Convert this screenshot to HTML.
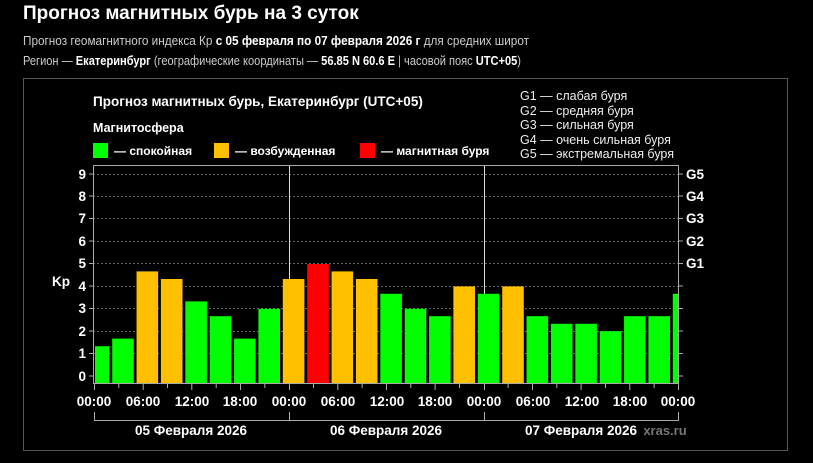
<!DOCTYPE html>
<html><head><meta charset="utf-8"><style>
html,body{margin:0;padding:0;background:#000;width:813px;height:463px;overflow:hidden}
svg{display:block}
</style></head><body>
<svg width="813" height="463" xmlns="http://www.w3.org/2000/svg" font-family="Liberation Sans, sans-serif">
<rect width="813" height="463" fill="#000"/>
<text x="23" y="19" fill="#fff" font-size="19" font-weight="bold">Прогноз магнитных бурь на 3 суток</text>
<text x="23" y="45" fill="#ccc" font-size="12.5" textLength="506" lengthAdjust="spacingAndGlyphs">Прогноз геомагнитного индекса Кр <tspan fill="#fff" font-weight="bold">с 05 февраля по 07 февраля 2026 г</tspan> для средних широт</text>
<text x="23" y="65" fill="#ccc" font-size="12.5" textLength="498" lengthAdjust="spacingAndGlyphs">Регион — <tspan fill="#fff" font-weight="bold">Екатеринбург</tspan> (географические координаты — <tspan fill="#fff" font-weight="bold">56.85 N 60.6 E</tspan> | часовой пояс <tspan fill="#fff" font-weight="bold">UTC+05</tspan>)</text>
<rect x="23.5" y="78.5" width="764" height="372" fill="none" stroke="#555" stroke-width="1"/>
<g fill="#fff" font-weight="bold">
<text x="93" y="106" font-size="13.5">Прогноз магнитных бурь, Екатеринбург (UTC+05)</text>
<text x="93" y="132" font-size="12.5">Магнитосфера</text>
</g>
<g fill="#eee" font-size="12.5">
<text x="520" y="100">G1 — слабая буря</text>
<text x="520" y="115">G2 — средняя буря</text>
<text x="520" y="129">G3 — сильная буря</text>
<text x="520" y="144">G4 — очень сильная буря</text>
<text x="520" y="158">G5 — экстремальная буря</text>
</g>
<rect x="93" y="143" width="15" height="15" fill="#00ff00"/>
<text x="114" y="155" fill="#fff" font-size="12" font-weight="bold">— спокойная</text>
<rect x="214" y="143" width="15" height="15" fill="#ffc000"/>
<text x="235" y="155" fill="#fff" font-size="12" font-weight="bold">— возбужденная</text>
<rect x="360" y="143" width="15" height="15" fill="#ff0000"/>
<text x="381" y="155" fill="#fff" font-size="12" font-weight="bold">— магнитная буря</text>
<g stroke="#666" stroke-dasharray="2,2" stroke-width="1">
<line x1="93" x2="678" y1="353.5" y2="353.5"/><line x1="93" x2="678" y1="331.5" y2="331.5"/>
<line x1="93" x2="678" y1="308.5" y2="308.5"/><line x1="93" x2="678" y1="286.5" y2="286.5"/>
<line x1="93" x2="678" y1="263.5" y2="263.5"/><line x1="93" x2="678" y1="241.5" y2="241.5"/>
<line x1="93" x2="678" y1="218.5" y2="218.5"/><line x1="93" x2="678" y1="196.5" y2="196.5"/>
<line x1="93" x2="678" y1="174.5" y2="174.5"/>
</g>
<line x1="289.5" x2="289.5" y1="166" y2="384" stroke="#ddd"/>
<line x1="484.5" x2="484.5" y1="166" y2="384" stroke="#ddd"/>
<g>
<rect x="95" y="346.2" width="14.4" height="37.8" fill="#00ff00"/>
<rect x="112.2" y="338.6" width="21.6" height="45.4" fill="#00ff00"/>
<rect x="136.55" y="271.4" width="21.6" height="112.6" fill="#ffc000"/>
<rect x="160.9" y="279" width="21.6" height="105" fill="#ffc000"/>
<rect x="185.3" y="301.4" width="21.6" height="82.6" fill="#00ff00"/>
<rect x="209.7" y="316.2" width="21.6" height="67.8" fill="#00ff00"/>
<rect x="234.05" y="338.6" width="21.6" height="45.4" fill="#00ff00"/>
<rect x="258.4" y="308.8" width="21.6" height="75.2" fill="#00ff00"/>
<rect x="282.8" y="279" width="21.6" height="105" fill="#ffc000"/>
<rect x="307.2" y="264" width="21.6" height="120" fill="#ff0000"/>
<rect x="331.55" y="271.4" width="21.6" height="112.6" fill="#ffc000"/>
<rect x="355.9" y="279" width="21.6" height="105" fill="#ffc000"/>
<rect x="380.3" y="293.8" width="21.6" height="90.2" fill="#00ff00"/>
<rect x="404.7" y="308.8" width="21.6" height="75.2" fill="#00ff00"/>
<rect x="429.05" y="316.2" width="21.6" height="67.8" fill="#00ff00"/>
<rect x="453.4" y="286.4" width="21.6" height="97.6" fill="#ffc000"/>
<rect x="477.8" y="293.8" width="21.6" height="90.2" fill="#00ff00"/>
<rect x="502.2" y="286.4" width="21.6" height="97.6" fill="#ffc000"/>
<rect x="526.55" y="316.2" width="21.6" height="67.8" fill="#00ff00"/>
<rect x="550.9" y="323.8" width="21.6" height="60.2" fill="#00ff00"/>
<rect x="575.3" y="323.8" width="21.6" height="60.2" fill="#00ff00"/>
<rect x="599.7" y="331.2" width="21.6" height="52.8" fill="#00ff00"/>
<rect x="624.05" y="316.2" width="21.6" height="67.8" fill="#00ff00"/>
<rect x="648.4" y="316.2" width="21.6" height="67.8" fill="#00ff00"/>
<rect x="672.8" y="293.8" width="5.2" height="90.2" fill="#00ff00"/>
</g>
<rect x="93.5" y="165.5" width="585" height="218" fill="none" stroke="#aaa"/>
<g fill="#fff" font-size="13.5" font-weight="bold" text-anchor="end">
<text x="86" y="381">0</text><text x="86" y="358">1</text><text x="86" y="336">2</text>
<text x="86" y="313">3</text><text x="86" y="291">4</text><text x="86" y="268">5</text>
<text x="86" y="246">6</text><text x="86" y="223">7</text><text x="86" y="201">8</text><text x="86" y="179">9</text>
</g>
<text x="52" y="286" fill="#fff" font-size="13.5" font-weight="bold">Kp</text>
<g fill="#fff" font-size="13.5" font-weight="bold">
<text x="686" y="179">G5</text><text x="686" y="201">G4</text><text x="686" y="223">G3</text>
<text x="686" y="246">G2</text><text x="686" y="268">G1</text>
</g>
<g stroke="#aaa">
<line x1="89" x2="93" y1="376" y2="376"/><line x1="89" x2="93" y1="353.5" y2="353.5"/>
<line x1="89" x2="93" y1="331" y2="331"/><line x1="89" x2="93" y1="308.5" y2="308.5"/>
<line x1="89" x2="93" y1="286" y2="286"/><line x1="89" x2="93" y1="263.5" y2="263.5"/>
<line x1="89" x2="93" y1="241" y2="241"/><line x1="89" x2="93" y1="218.5" y2="218.5"/>
<line x1="89" x2="93" y1="196" y2="196"/><line x1="89" x2="93" y1="174" y2="174"/>
<line x1="678" x2="683" y1="376" y2="376"/><line x1="678" x2="683" y1="353.5" y2="353.5"/>
<line x1="678" x2="683" y1="331" y2="331"/><line x1="678" x2="683" y1="308.5" y2="308.5"/>
<line x1="678" x2="683" y1="286" y2="286"/><line x1="678" x2="683" y1="263.5" y2="263.5"/>
<line x1="678" x2="683" y1="241" y2="241"/><line x1="678" x2="683" y1="218.5" y2="218.5"/>
<line x1="678" x2="683" y1="196" y2="196"/><line x1="678" x2="683" y1="174" y2="174"/>
</g>
<path stroke="#aaa" fill="none" d="M94.5 384v6M118.8 384v4M143.2 384v6M167.5 384v4M191.8 384v6M216.2 384v4M240.5 384v6M264.8 384v4M289.5 384v6M313.5 384v4M337.8 384v6M362.1 384v4M386.5 384v6M410.8 384v4M435.1 384v6M459.5 384v4M484.5 384v6M508.1 384v4M532.5 384v6M556.8 384v4M581.1 384v6M605.5 384v4M629.8 384v6M654.1 384v4M678.5 384v6"/>
<g fill="#fff" font-size="13.5" font-weight="bold" text-anchor="middle">
<text x="94" y="406">00:00</text><text x="143" y="406">06:00</text><text x="192" y="406">12:00</text>
<text x="240" y="406">18:00</text><text x="289" y="406">00:00</text><text x="338" y="406">06:00</text>
<text x="387" y="406">12:00</text><text x="435" y="406">18:00</text><text x="484" y="406">00:00</text>
<text x="533" y="406">06:00</text><text x="582" y="406">12:00</text><text x="630" y="406">18:00</text>
<text x="678" y="406">00:00</text>
<text x="191" y="435">05 Февраля 2026</text><text x="386" y="435">06 Февраля 2026</text><text x="581" y="435">07 Февраля 2026</text>
</g>
<text x="665" y="435" fill="#777" font-size="13" font-weight="bold" text-anchor="middle">xras.ru</text>
<path d="M94.5 412V420.5H289.5V412M289.5 420.5H484.5V412M484.5 420.5H678.5V412" fill="none" stroke="#aaa"/>
</svg>
</body></html>
